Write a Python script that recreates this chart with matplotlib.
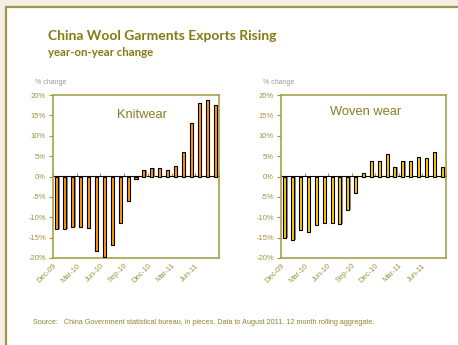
import numpy as np
import matplotlib.pyplot as plt
from matplotlib.patches import Rectangle

# monthly data Dec-09 .. Aug-11, yoy % change
months = ['Dec-09', 'Jan-10', 'Feb-10', 'Mar-10', 'Apr-10', 'May-10', 'Jun-10',
          'Jul-10', 'Aug-10', 'Sep-10', 'Oct-10', 'Nov-10', 'Dec-10', 'Jan-11',
          'Feb-11', 'Mar-11', 'Apr-11', 'May-11', 'Jun-11', 'Jul-11', 'Aug-11']
knitwear = [-13.0, -12.8, -12.3, -12.3, -12.6, -18.4, -19.7, -16.7, -11.5, -6.0,
            -0.7, 1.5, 2.0, 2.2, 1.5, 2.6, 5.9, 13.1, 18.0, 18.8, 17.6]
woven = [-15.2, -15.7, -13.2, -13.7, -12.0, -11.4, -11.5, -11.6, -8.3, -4.0,
         0.8, 3.7, 3.7, 5.4, 2.4, 3.9, 3.7, 4.7, 4.5, 6.0, 2.3]
yticks = [-20, -15, -10, -5, 0, 5, 10, 15, 20]

olive = '#9c9440'
title_col = '#857a12'

fig = plt.figure(figsize=(4.58, 3.45), dpi=100)
fig.patch.set_facecolor('#f3ede2')

# white panel with olive frame
fig.patches.append(Rectangle((6 / 458, -0.1), 1.2, 1 - 7 / 345 + 0.1,
                             transform=fig.transFigure, facecolor='white',
                             edgecolor='#9d964c', lw=1.6, zorder=-5))

fig.text(48 / 458, 1 - 36 / 345, 'China Wool Garments Exports Rising', family='Lato',
         weight='bold', fontsize=10, color=title_col, va='center')
fig.text(48 / 458, 1 - 53 / 345, 'year-on-year change', family='Lato',
         weight='bold', fontsize=8.2, color=title_col, va='center')


def panel(rect, values, colour, label, lab_x, lab_y, unit_x):
    ax = fig.add_axes(rect)
    x = np.arange(len(values))
    # drop shadow then bar
    ax.bar(x + 0.14, values, width=0.42, color='#8c8c8c', zorder=2)
    ax.bar(x, values, width=0.38, color=colour, edgecolor='black', lw=0.8, zorder=3)
    ax.set_xlim(-0.5, len(values) - 0.5)
    ax.set_ylim(-20, 20)
    ax.set_yticks(yticks)
    ax.set_yticklabels([f'{v}%' for v in yticks])
    ticks = np.arange(-0.5, len(values), 3)
    ax.set_xticks(ticks[:len(months[::3])])
    ax.set_xticklabels(months[::3], rotation=45, ha='right', va='top',
                       rotation_mode='anchor')
    ax.tick_params(axis='x', length=0, pad=3, labelsize=5.5, labelcolor=olive)
    ax.tick_params(axis='y', length=3, width=0.8, color=olive, pad=2,
                   labelsize=5.5, labelcolor=olive)
    for lab in ax.get_xticklabels() + ax.get_yticklabels():
        lab.set_family('Liberation Sans')
    for s in ax.spines.values():
        s.set_color('#a8a24a')
        s.set_linewidth(1.2)
    # category axis crossing at zero
    zero = ax.secondary_xaxis(0.5)
    zero.set_xticks(ticks)
    zero.set_xticklabels([])
    zero.tick_params(length=2.5, width=0.8, color=olive)
    zero.spines['bottom'].set_color('#a8a24a')
    zero.spines['bottom'].set_linewidth(1.4)
    ax.text(lab_x, lab_y, label, transform=ax.transAxes, fontsize=9.3,
            family='Liberation Sans', color='#877d22', ha='center')
    fig.text(unit_x / 458, 1 - 82 / 345, '% change', fontsize=5,
             family='Liberation Sans', color='#9a9a9a', va='center')
    return ax


panel([53 / 458, 1 - 258 / 345, 166 / 458, 163 / 345], knitwear, '#ff9900',
      'Knitwear', 0.535, 0.86, 35)
panel([281 / 458, 1 - 258 / 345, 165 / 458, 163 / 345], woven, '#ffcc00',
      'Woven wear', 0.51, 0.88, 263)

fig.text(33 / 458, 1 - 323 / 345,
         'Source:   China Government statistical bureau, in pieces. Data to August 2011. '
         '12 month rolling aggregate.', fontsize=5.2, family='Liberation Sans',
         color='#8f8630', va='center')

fig.savefig('out.png', dpi=100, facecolor=fig.get_facecolor())
